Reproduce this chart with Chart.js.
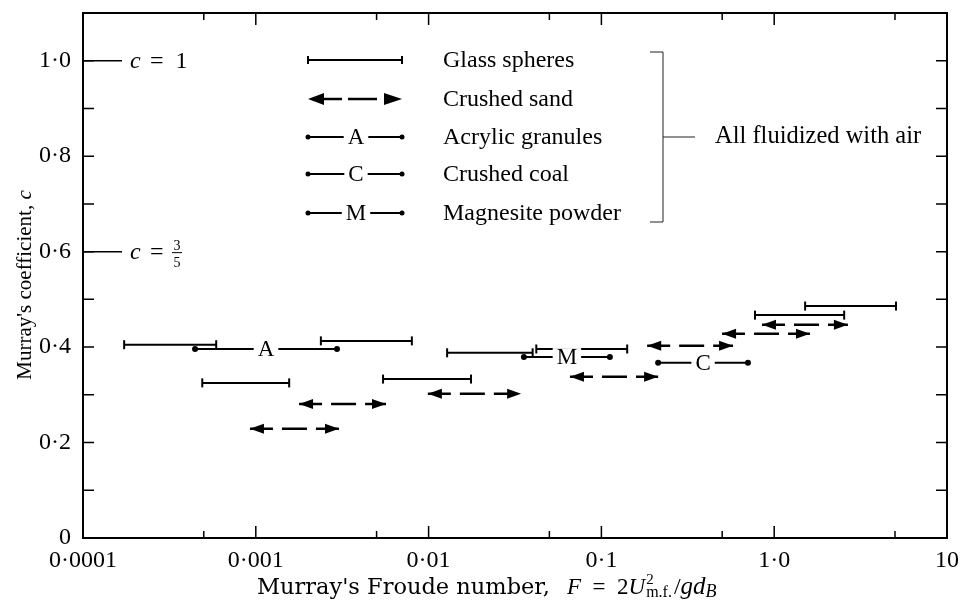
<!DOCTYPE html>
<html><head><meta charset="utf-8">
<script src="https://cdn.jsdelivr.net/npm/chart.js@4/dist/chart.umd.min.js"></script>
<style>html,body{margin:0;padding:0;background:#fff}#wrap{width:961px;height:600px;position:relative}</style>
</head><body><div id="wrap"><canvas id="c"></canvas></div>
<script>
// ---- data ----
const glassLo = [1.73e-4, 4.9e-4, 2.38e-3, 5.45e-3, 1.28e-2, 4.2e-2, 0.774, 1.51];
const glassHi = [5.9e-4, 1.56e-3, 8.0e-3, 1.76e-2, 4.0e-2, 0.141, 2.54, 5.07];
const glassC  = [0.405, 0.325, 0.413, 0.333, 0.388, 0.396, 0.467, 0.486];

const sandLo = [9.25e-4, 1.78e-3, 9.9e-3, 6.58e-2, 0.184, 0.499, 0.85];
const sandHi = [3.03e-3, 5.67e-3, 3.43e-2, 0.213, 0.578, 1.61, 2.67];
const sandC  = [0.229, 0.281, 0.302, 0.338, 0.403, 0.428, 0.447];

const letterNames = ['A', 'C', 'M'];
const letterLo = [4.45e-4, 0.213, 3.56e-2];
const letterHi = [2.95e-3, 0.705, 0.112];
const letterC  = [0.396, 0.367, 0.379];

const seriesNames = ['Glass spheres', 'Crushed sand', 'Acrylic granules', 'Crushed coal', 'Magnesite powder'];
const groupNote = 'All fluidized with air';

const xMajorTicks = [1e-4, 1e-3, 1e-2, 0.1, 1, 10];
const xMajorLabels = ['0·0001', '0·001', '0·01', '0·1', '1·0', '10'];
const xMinorTicks = [5e-4, 5e-3, 5e-2, 0.5, 5];
const yMajorTicks = [0, 0.2, 0.4, 0.6, 0.8, 1.0];
const yMajorLabels = ['0', '0·2', '0·4', '0·6', '0·8', '1·0'];
const yMinorTicks = [0.1, 0.3, 0.5, 0.7, 0.9];
const refLines = [1.0, 0.6];
const xTitle = "Murray's Froude number,";
const yTitle = "Murray's coefficient, ";

// ---- datasets ----
const datasets = [];
glassLo.forEach((lo, i) => datasets.push({
  kind: 'glass', data: [{x: lo, y: glassC[i]}, {x: glassHi[i], y: glassC[i]}],
  borderColor: '#000', borderWidth: 2, pointRadius: 0, showLine: true
}));
sandLo.forEach((lo, i) => datasets.push({
  kind: 'sand', data: [{x: lo, y: sandC[i]}, {x: sandHi[i], y: sandC[i]}],
  borderColor: '#000', borderWidth: 2.5, borderDash: [23, 9, 25, 9], pointRadius: 0, showLine: true
}));
letterLo.forEach((lo, i) => datasets.push({
  kind: 'letter', letter: letterNames[i], data: [{x: lo, y: letterC[i]}, {x: letterHi[i], y: letterC[i]}],
  borderColor: '#000', borderWidth: 2, pointRadius: 0, showLine: true
}));

const SERIF = '"Liberation Serif", "Times New Roman", serif';

function arrowHead(ctx, x, y, dir, len, half) {
  ctx.beginPath();
  ctx.moveTo(x, y);
  ctx.lineTo(x - dir * len, y - half);
  ctx.lineTo(x - dir * len, y + half);
  ctx.closePath();
  ctx.fill();
}
function dot(ctx, x, y, r) { ctx.beginPath(); ctx.arc(x, y, r, 0, Math.PI * 2); ctx.fill(); }
function letterGap(ctx, ch, x, y, font) {
  ctx.font = font;
  const w = ctx.measureText(ch).width;
  ctx.fillStyle = '#fff';
  ctx.fillRect(x - w / 2 - 4, y - 9, w + 8, 18);
  ctx.fillStyle = '#000';
  ctx.textAlign = 'center'; ctx.textBaseline = 'middle';
  ctx.fillText(ch, x, y + 1);
}

const customPlugin = {
  id: 'custom',
  afterDatasetsDraw(chart) {
    const ctx = chart.ctx;
    chart.data.datasets.forEach((ds, i) => {
      const pts = chart.getDatasetMeta(i).data;
      const a = pts[0], b = pts[1];
      ctx.save();
      ctx.fillStyle = '#000'; ctx.strokeStyle = '#000';
      if (ds.kind === 'glass') {
        ctx.lineWidth = 2;
        [a, b].forEach(p => { ctx.beginPath(); ctx.moveTo(p.x, p.y - 4.5); ctx.lineTo(p.x, p.y + 4.5); ctx.stroke(); });
      } else if (ds.kind === 'sand') {
        arrowHead(ctx, a.x, a.y, -1, 14, 5);
        arrowHead(ctx, b.x, b.y, 1, 14, 5);
      } else if (ds.kind === 'letter') {
        dot(ctx, a.x, a.y, 3); dot(ctx, b.x, b.y, 3);
        letterGap(ctx, ds.letter, (a.x + b.x) / 2, a.y, '23px ' + SERIF);
      }
      ctx.restore();
    });
  },
  afterDraw(chart) {
    const ctx = chart.ctx, ca = chart.chartArea;
    const xs = chart.scales.x, ys = chart.scales.y;
    ctx.save();
    ctx.strokeStyle = '#000'; ctx.fillStyle = '#000';
    // frame
    ctx.lineWidth = 2;
    ctx.strokeRect(ca.left, ca.top, ca.right - ca.left, ca.bottom - ca.top);
    // inward ticks
    ctx.lineWidth = 1.5;
    const vt = (v, len) => {
      const px = xs.getPixelForValue(v);
      ctx.beginPath(); ctx.moveTo(px, ca.bottom); ctx.lineTo(px, ca.bottom - len);
      ctx.moveTo(px, ca.top); ctx.lineTo(px, ca.top + len); ctx.stroke();
    };
    xMajorTicks.forEach(v => vt(v, 12));
    xMinorTicks.forEach(v => vt(v, 7));
    [...yMajorTicks, ...yMinorTicks].forEach(v => {
      const py = ys.getPixelForValue(v);
      ctx.beginPath(); ctx.moveTo(ca.left, py); ctx.lineTo(ca.left + 11, py);
      ctx.moveTo(ca.right, py); ctx.lineTo(ca.right - 11, py); ctx.stroke();
    });
    // reference lines c = 1 and c = 3/5
    ctx.lineWidth = 1.5;
    refLines.forEach(v => {
      const py = ys.getPixelForValue(v);
      ctx.beginPath(); ctx.moveTo(ca.left, py); ctx.lineTo(ca.left + 39, py); ctx.stroke();
    });
    ctx.textBaseline = 'alphabetic'; ctx.textAlign = 'left';
    let py = ys.getPixelForValue(refLines[0]);
    ctx.font = 'italic 24px ' + SERIF; ctx.fillText('c', ca.left + 47, py + 7);
    ctx.font = '24px ' + SERIF; ctx.fillText('=  1', ca.left + 67, py + 7);
    py = ys.getPixelForValue(refLines[1]);
    ctx.font = 'italic 24px ' + SERIF; ctx.fillText('c', ca.left + 47, py + 7);
    ctx.font = '24px ' + SERIF; ctx.fillText('=', ca.left + 67, py + 7);
    ctx.font = '14px ' + SERIF; ctx.textAlign = 'center';
    ctx.fillText('3', ca.left + 94, py - 2);
    ctx.fillText('5', ca.left + 94, py + 15);
    ctx.lineWidth = 1; ctx.beginPath(); ctx.moveTo(ca.left + 89, py + 1); ctx.lineTo(ca.left + 99, py + 1); ctx.stroke();

    // legend
    const lx0 = 308, lx1 = 402, tx = 443;
    const rowY = [60, 99, 137, 174, 213];
    ctx.textAlign = 'left';
    rowY.forEach((y, i) => {
      ctx.fillStyle = '#000'; ctx.strokeStyle = '#000';
      if (i === 0) {
        ctx.lineWidth = 2;
        ctx.beginPath(); ctx.moveTo(lx0, y); ctx.lineTo(lx1, y); ctx.stroke();
        ctx.beginPath(); ctx.moveTo(lx0, y - 4); ctx.lineTo(lx0, y + 4); ctx.moveTo(lx1, y - 4); ctx.lineTo(lx1, y + 4); ctx.stroke();
      } else if (i === 1) {
        ctx.lineWidth = 2.5;
        ctx.beginPath(); ctx.moveTo(lx0 + 10, y); ctx.lineTo(lx0 + 34, y);
        ctx.moveTo(lx0 + 40, y); ctx.lineTo(lx0 + 69, y); ctx.stroke();
        arrowHead(ctx, lx0, y, -1, 16, 6);
        arrowHead(ctx, lx1, y, 1, 18, 6);
      } else {
        ctx.lineWidth = 2;
        ctx.beginPath(); ctx.moveTo(lx0, y); ctx.lineTo(lx1, y); ctx.stroke();
        dot(ctx, lx0, y, 2.5); dot(ctx, lx1, y, 2.5);
        letterGap(ctx, letterNames[i - 2], 356, y, '23px ' + SERIF);
      }
      ctx.textAlign = 'left'; ctx.textBaseline = 'middle';
      ctx.font = '24px ' + SERIF; ctx.fillStyle = '#000';
      ctx.fillText(seriesNames[i], tx, y + 1);
    });
    // bracket
    ctx.lineWidth = 1; ctx.strokeStyle = '#222';
    ctx.beginPath();
    ctx.moveTo(650, 52); ctx.lineTo(663, 52); ctx.lineTo(663, 222); ctx.lineTo(650, 222);
    ctx.moveTo(663, 137); ctx.lineTo(695, 137);
    ctx.stroke();
    ctx.font = '24.5px ' + SERIF; ctx.textBaseline = 'middle';
    ctx.fillText(groupNote, 715, 137);

    // x title
    ctx.textBaseline = 'alphabetic'; ctx.textAlign = 'left';
    let x = 257; const by = 594;
    ctx.font = '22.5px "DejaVu Serif", serif';
    ctx.fillText(xTitle, x, by);
    x = 567;
    const part = (t, font, dy) => { ctx.font = font; ctx.fillText(t, x, by + (dy || 0)); x += ctx.measureText(t).width; };
    part('F', 'italic 23px ' + SERIF);
    part('  =  ', '23px ' + SERIF);
    part('2', '23px ' + SERIF);
    part('U', 'italic 23px ' + SERIF);
    const sx = x;
    ctx.font = '15px ' + SERIF; ctx.fillText('2', sx + 1, by - 10);
    ctx.font = '16px ' + SERIF; ctx.fillText('m.f.', sx + 1, by + 3);
    x = sx + ctx.measureText('m.f.').width + 3;
    part('/', '24px ' + SERIF);
    part('gd', 'italic 25px ' + SERIF);
    part('B', 'italic 18px ' + SERIF, 3);

    // y title
    ctx.save();
    ctx.translate(25, 285); ctx.rotate(-Math.PI / 2);
    ctx.font = '21px ' + SERIF;
    const w1 = ctx.measureText(yTitle).width;
    ctx.font = 'italic 21px ' + SERIF;
    const w2 = ctx.measureText('c').width;
    ctx.textBaseline = 'middle'; ctx.textAlign = 'left';
    ctx.font = '21px ' + SERIF; ctx.fillText(yTitle, -(w1 + w2) / 2, 0);
    ctx.font = 'italic 21px ' + SERIF; ctx.fillText('c', -(w1 + w2) / 2 + w1, 0);
    ctx.restore();
    ctx.restore();
  }
};

new Chart(document.getElementById('c'), {
  type: 'scatter',
  data: { datasets },
  options: {
    responsive: true, maintainAspectRatio: false, animation: false,
    layout: { padding: { top: 13, right: 14, left: 0, bottom: 0 } },
    plugins: { legend: { display: false }, tooltip: { enabled: false } },
    scales: {
      x: {
        type: 'logarithmic', min: 1e-4, max: 10,
        afterBuildTicks: s => { s.ticks = xMajorTicks.map(v => ({ value: v })); },
        afterFit: s => { s.height = 62; s.paddingLeft = 0; s.paddingRight = 0; s.paddingTop = 0; s.paddingBottom = 0; },
        grid: { display: false, drawTicks: false }, border: { display: false },
        ticks: {
          autoSkip: false, maxRotation: 0, padding: 8, color: '#000',
          font: { family: SERIF, size: 24 },
          callback: (v) => { const k = xMajorTicks.findIndex(t => Math.abs(Math.log10(t) - Math.log10(v)) < 1e-6); return k >= 0 ? xMajorLabels[k] : ''; }
        }
      },
      y: {
        min: 0, max: 1.1,
        afterBuildTicks: s => { s.ticks = yMajorTicks.map(v => ({ value: v })); },
        afterFit: s => { s.width = 83; s.paddingLeft = 0; s.paddingRight = 0; s.paddingTop = 0; s.paddingBottom = 0; },
        grid: { display: false, drawTicks: false }, border: { display: false },
        ticks: {
          padding: 12, color: '#000', font: { family: SERIF, size: 24 },
          callback: (v) => { const k = yMajorTicks.findIndex(t => Math.abs(t - v) < 1e-6); return k >= 0 ? yMajorLabels[k] : ''; }
        }
      }
    }
  },
  plugins: [customPlugin]
});
</script>
</body></html>
